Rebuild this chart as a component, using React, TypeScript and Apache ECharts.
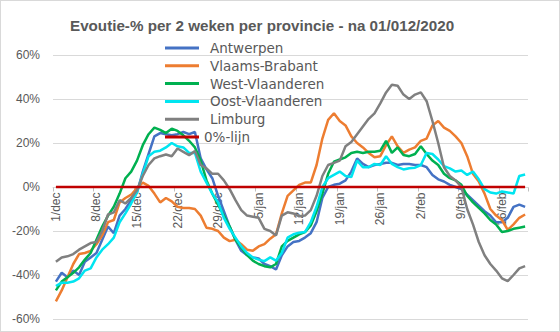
import React, { useEffect, useRef } from "react";
import * as echarts from "echarts";

const categories = [
  "1/dec","2/dec","3/dec","4/dec","5/dec","6/dec","7/dec","8/dec","9/dec","10/dec",
  "11/dec","12/dec","13/dec","14/dec","15/dec","16/dec","17/dec","18/dec","19/dec","20/dec",
  "21/dec","22/dec","23/dec","24/dec","25/dec","26/dec","27/dec","28/dec","29/dec","30/dec",
  "31/dec","1/jan","2/jan","3/jan","4/jan","5/jan","6/jan","7/jan","8/jan","9/jan",
  "10/jan","11/jan","12/jan","13/jan","14/jan","15/jan","16/jan","17/jan","18/jan","19/jan",
  "20/jan","21/jan","22/jan","23/jan","24/jan","25/jan","26/jan","27/jan","28/jan","29/jan",
  "30/jan","31/jan","1/feb","2/feb","3/feb","4/feb","5/feb","6/feb","7/feb","8/feb",
  "9/feb","10/feb","11/feb","12/feb","13/feb","14/feb","15/feb","16/feb","17/feb","18/feb",
  "19/feb","20/feb"
];

const antwerpen = [
  -43, -39, -41, -38, -40, -34, -32, -30, -24, -18,
  -21, -13, -10, -6, -2.5, 7, 15, 23, 24.5, 24,
  23.5, 24, 25, 24, 25, 13, 8, 4, -4, -11,
  -18, -24, -29, -31, -32, -32.5, -35, -36, -37.5, -31,
  -27, -25, -24.5, -23, -21, -16, -5, 0, 1, 1.5,
  3, 7, 13, 10.5, 9, 10, 10.5, 11, 11, 10,
  10.5, 10.5, 10, 10, 9, 5.5, 3.5, 2.5, 1, 0,
  -1, -3.5, -6, -8.5, -11, -13, -16, -16, -14, -9,
  -8, -9
];

const vlaamsBrabant = [
  -52, -47, -41, -35, -30.5, -30, -29, -26, -22, -16,
  -15, -7, -5, -3.5, -0.5, 2, 0.5, -3, -7, -5,
  -6.5, -9, -9.5, -9.5, -10, -13, -18.5, -19, -20, -23,
  -24.6, -24, -26, -28.5, -29, -27, -26, -23.5, -21.5, -12,
  -4, -1.5, 1, 2, 2, 10, 22, 30.5, 33.5, 30,
  28, 23, 20, 18, 15.5, 13.5, 14, 19, 23, 18.5,
  15.5, 17, 18, 21, 22, 28, 30, 27, 25.5, 23,
  20, 14, 6, 2.5, -3, -10, -13, -15, -19.5, -17,
  -14, -12.5
];

const westVlaanderen = [
  -47, -43, -41, -39, -36.5, -33, -30, -24, -18, -13,
  -9, -3, 4, 7, 12, 19, 24, 27, 26, 24.5,
  26.5, 25.5, 23.5, 21, 18, 12, 3, -3, -8, -13,
  -18, -24, -27.5, -31, -33.5, -35, -36, -36.5, -35, -27,
  -24.5, -23, -21.5, -20.5, -17.5, -11, -3, 6, 11.5, 12.5,
  13.5, 15.5, 16, 15.5, 16, 16, 16.5, 21, 15.5, 18,
  14.5, 14, 15, 18.5, 15, 12, 10, 6, 4, 3,
  1, -4, -7, -9.5, -12, -15, -17, -20.5, -20, -19,
  -18.5, -18
];

const oostVlaanderen = [
  -45, -43.5, -43.5, -43, -41.5, -38, -37, -32, -28.5, -26,
  -23, -16, -12, -7.5, -2.5, 6, 14, 16, 16.5, 18,
  20, 18.5, 18, 15.5, 15.5, 7, 2, -3, -7, -14,
  -19, -23, -27, -30, -32, -33, -33.7, -32, -33.5, -30,
  -23, -21.5, -20.8, -20.5, -16, -9, 0, 4, 5.5, 7,
  5, 4.5, 12, 9, 9, 10.5, 10, 14, 10.5, 9,
  8, 8.5, 8.8, 10, 15.5, 15, 12.5, 9.5, 8.5, 7,
  7.5, 5.5, 7, 3.5, -1, -2.5, -3, -2, -2.5, -3,
  5, 5.7
];

const limburg = [
  -34, -32, -31.5, -30.5, -28.5, -27, -25.5, -25, -20, -12.5,
  -11.5, -6, -7.5, -5, -1.5, 5, 10, 13, 14, 14.8,
  14, 17.5, 16, 14.5, 16.3, 10, 8.5, 6, 6, 3,
  -1, -6, -10.5, -13, -13.5, -14, -19, -20, -22, -13,
  -11.5, -12, -13.3, -13, -10.5, -4, 5, 10, 11, 12,
  18.5, 20.5, 24, 27.5, 31, 33.5, 38, 43, 46.5, 46,
  42, 40, 42, 43, 39, 30, 20, 9, 5, 3,
  0, -10, -17, -25, -31, -35, -38, -41.5, -42.8, -40,
  -37, -36
];

const nulLijn = [
  0, 0, 0, 0, 0, 0, 0, 0, 0, 0,
  0, 0, 0, 0, 0, 0, 0, 0, 0, 0,
  0, 0, 0, 0, 0, 0, 0, 0, 0, 0,
  0, 0, 0, 0, 0, 0, 0, 0, 0, 0,
  0, 0, 0, 0, 0, 0, 0, 0, 0, 0,
  0, 0, 0, 0, 0, 0, 0, 0, 0, 0,
  0, 0, 0, 0, 0, 0, 0, 0, 0, 0,
  0, 0, 0, 0, 0, 0, 0, 0, 0, 0,
  0, 0
];

const seriesNames = ["Antwerpen", "Vlaams-Brabant", "West-Vlaanderen", "Oost-Vlaanderen", "Limburg", "0%-lijn"];
const seriesColors = ["#4472C4", "#ED7D31", "#00B050", "#00E5F0", "#808080", "#C00000"];
const seriesData = [antwerpen, vlaamsBrabant, westVlaanderen, oostVlaanderen, limburg, nulLijn];

const titleText = "Evoutie-% per 2 weken per provincie - na 01/012/2020";

export default function App() {
  const ref = useRef<HTMLDivElement>(null);
  useEffect(() => {
    document.body.style.margin = "0";
    const chart = echarts.init(ref.current!, null, { renderer: "svg" });
    chart.setOption({
      animation: false,
      backgroundColor: "#ffffff",
      title: {
        text: titleText,
        left: 65,
        top: 13,
        textStyle: { fontSize: 15.2, fontWeight: "bold", color: "#595959", fontFamily: "Liberation Sans" },
      },
      legend: {
        orient: "vertical",
        left: 160,
        top: 36,
        icon: "rect",
        itemWidth: 34,
        itemHeight: 3,
        itemGap: 3.8,
        textStyle: { color: "#595959", fontSize: 13.5, fontFamily: "DejaVu Sans", padding: [0, 0, 0, 6] },
        data: [
          "Antwerpen",
          "Vlaams-Brabant",
          "West-Vlaanderen",
          "Oost-Vlaanderen",
          "Limburg",
          { name: "0%-lijn", textStyle: { padding: [0, 0, 0, 0] } },
        ],
      },
      grid: { left: 53, right: 32, top: 55, bottom: 13, containLabel: false, outerBoundsMode: "none" },
      xAxis: {
        type: "category",
        data: categories,
        boundaryGap: true,
        position: "bottom",
        offset: -131.5,
        axisLine: { onZero: false, lineStyle: { color: "#d9d9d9" } },
        axisTick: { show: true, interval: 6, length: 4, lineStyle: { color: "#bfbfbf" } },
        axisLabel: {
          interval: 6,
          rotate: 90,
          color: "#595959",
          fontSize: 12,
          fontFamily: "Liberation Sans",
          margin: 5,
        },
        splitLine: { show: false },
      },
      yAxis: {
        type: "value",
        min: -60,
        max: 60,
        interval: 20,
        axisLabel: { formatter: "{value}%", color: "#595959", fontSize: 12, fontFamily: "Liberation Sans", margin: 13 },
        splitLine: { lineStyle: { color: "#d9d9d9", width: 1 } },
        axisLine: { show: false },
        axisTick: { show: false },
      },
      series: seriesNames.map((name, i) => ({
        name,
        type: "line",
        data: seriesData[i],
        symbol: "none",
        showSymbol: false,
        color: seriesColors[i],
        itemStyle: { color: seriesColors[i] },
        lineStyle: { color: seriesColors[i], width: 2.5 },
        z: i === 5 ? 10 : 2,
      })),
    });
    return () => chart.dispose();
  }, []);
  return (
    <div style={{ position: "relative", width: 560, height: 332 }}>
      <div ref={ref} style={{ width: 560, height: 332 }} />
      <div
        style={{
          position: "absolute",
          left: 0,
          top: 0,
          width: 560,
          height: 332,
          boxSizing: "border-box",
          border: "1px solid #d9d9d9",
          pointerEvents: "none",
        }}
      />
    </div>
  );
}
